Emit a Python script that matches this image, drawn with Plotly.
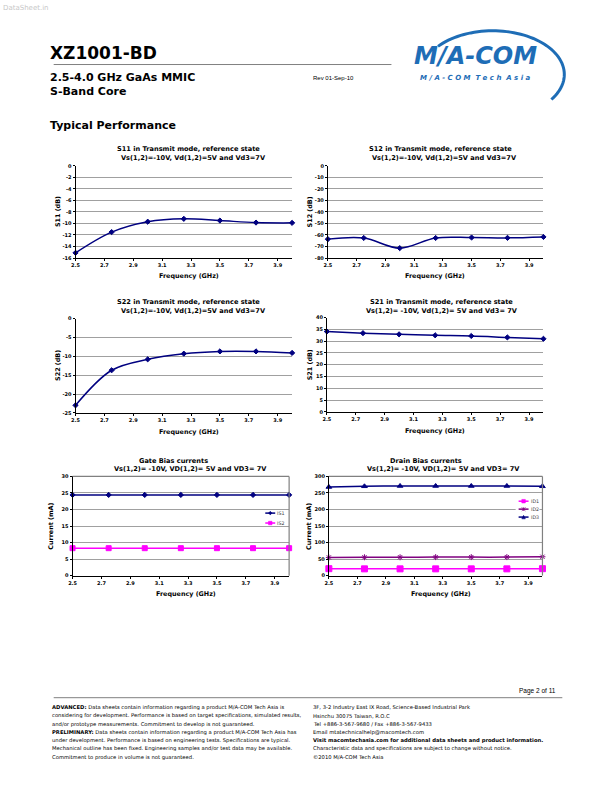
import math
import plotly.graph_objects as go

# ---------------- data ----------------
freq = [2.5, 2.75, 3.0, 3.25, 3.5, 3.75, 4.0]
s11 = [-15.1, -11.5, -9.7, -9.2, -9.5, -9.85, -9.9]
s12 = [-63.6, -62.6, -71.4, -62.6, -62.2, -62.5, -61.7]
s22 = [-23.0, -13.7, -10.8, -9.3, -8.7, -8.7, -9.1]
s21 = [34.1, 33.4, 32.9, 32.5, 32.2, 31.6, 31.0]
is1 = [24.4, 24.4, 24.4, 24.4, 24.4, 24.4, 24.4]
is2 = [8.3, 8.3, 8.3, 8.3, 8.3, 8.3, 8.3]
id1 = [21, 20.5, 20.5, 20.5, 20.5, 20.5, 21]
id2 = [55, 55.5, 55.5, 56, 56, 56, 57]
id3 = [268, 270, 271, 271, 271, 271, 270]

xticks = [2.5, 2.7, 2.9, 3.1, 3.3, 3.5, 3.7, 3.9]
xticklabels = ["2.5", "2.7", "2.9", "3.1", "3.3", "3.5", "3.7", "3.9"]
s11_ticks = [0, -2, -4, -6, -8, -10, -12, -14, -16]
s11_labels = ["0", "-2", "-4", "-6", "-8", "-10", "-12", "-14", "-16"]
s12_ticks = [0, -10, -20, -30, -40, -50, -60, -70, -80]
s12_labels = ["0", "-10", "-20", "-30", "-40", "-50", "-60", "-70", "-80"]
s22_ticks = [0, -5, -10, -15, -20, -25]
s22_labels = ["0", "-5", "-10", "-15", "-20", "-25"]
s21_ticks = [0, 5, 10, 15, 20, 25, 30, 35, 40]
s21_labels = ["0", "5", "10", "15", "20", "25", "30", "35", "40"]
gate_ticks = [0, 5, 10, 15, 20, 25, 30]
gate_labels = ["0", "5", "10", "15", "20", "25", "30"]
drain_ticks = [0, 50, 100, 150, 200, 250, 300]
drain_labels = ["0", "50", "100", "150", "200", "250", "300"]

W, H = 612, 792
NAVY = "#000080"
MAGENTA = "#FF00FF"
PURPLE = "#800080"
BLUE = "#1E6DB6"
FONT = "DejaVu Sans"


def px(x):
    return x / W


def py(y):
    return 1 - y / H


fig = go.Figure()

# chart boxes in page pixels: (left, right, top, bottom)
boxes = [
    (72, 290, 164, 257),
    (326, 543, 164, 257),
    (72, 290, 318, 413),
    (325, 543, 317, 412),
    (69, 287, 477, 577),
    (327, 542, 477, 577),
]
yaxes = [
    ((-16, 0), s11_ticks, s11_labels),
    ((-80, 0), s12_ticks, s12_labels),
    ((-25, 0), s22_ticks, s22_labels),
    ((0, 40), s21_ticks, s21_labels),
    ((0, 30), gate_ticks, gate_labels),
    ((0, 300), drain_ticks, drain_labels),
]

tickfont = dict(family=FONT, size=5, color="black", weight="bold")

for i, ((l, r, t, b), (yr, yt, yl)) in enumerate(zip(boxes, yaxes)):
    n = "" if i == 0 else str(i + 1)
    fig.layout["xaxis" + n] = dict(
        domain=[px(l), px(r)], range=[2.5, 4.0], anchor="y" + n,
        tickmode="array", tickvals=xticks, ticktext=xticklabels,
        showline=True, linecolor="black", linewidth=1,
        ticks="outside", ticklen=2, tickcolor="black",
        showgrid=False, zeroline=False, tickfont=tickfont, fixedrange=True,
    )
    fig.layout["yaxis" + n] = dict(
        domain=[py(b), py(t)], range=list(yr), anchor="x" + n,
        tickmode="array", tickvals=yt, ticktext=yl,
        showline=True, linecolor="black", linewidth=1,
        ticks="outside", ticklen=2, tickcolor="black",
        showgrid=True, gridcolor="#A0A0A0", gridwidth=1,
        zeroline=False, tickfont=tickfont, fixedrange=True,
    )

shapes = []
# frames for bias charts: top and right edges in gray
for (l, r, t, b) in boxes[4:]:
    shapes.append(dict(type="line", xref="paper", yref="paper",
                       x0=px(l), x1=px(r), y0=py(t), y1=py(t),
                       line=dict(color="#808080", width=1.2)))
    shapes.append(dict(type="line", xref="paper", yref="paper",
                       x0=px(r), x1=px(r), y0=py(t), y1=py(b),
                       line=dict(color="#808080", width=1.2)))


def add_series(y, ax, color, symbol, size, name, width=1.5):
    n = "" if ax == 1 else str(ax)
    fig.add_trace(go.Scatter(
        x=freq, y=y, xaxis="x" + n, yaxis="y" + n, name=name,
        mode="lines+markers",
        line=dict(color=color, width=width, shape="spline", smoothing=1.0),
        marker=dict(color=color, symbol=symbol, size=size,
                    line=dict(color=color, width=1)),
        showlegend=False, cliponaxis=False,
    ))


add_series(s11, 1, NAVY, "diamond", 4, "S11")
add_series(s12, 2, NAVY, "diamond", 4, "S12")
add_series(s22, 3, NAVY, "diamond", 4, "S22")
add_series(s21, 4, NAVY, "diamond", 4, "S21")
add_series(is1, 5, NAVY, "diamond", 4, "IS1")
add_series(is2, 5, MAGENTA, "square", 5, "IS2")
add_series(id1, 6, MAGENTA, "square", 6, "ID1")
add_series(id2, 6, PURPLE, "asterisk-open", 5, "ID2")
add_series(id3, 6, NAVY, "triangle-up", 5, "ID3")

ann = []


def text(x, y, s, size, color="black", xanchor="center", bold=False, angle=0,
         family=FONT, italic=False):
    if bold:
        s = "<b>" + s + "</b>"
    if italic:
        s = "<i>" + s + "</i>"
    ann.append(dict(x=px(x), y=py(y), xref="paper", yref="paper", text=s,
                    showarrow=False, xanchor=xanchor, yanchor="middle",
                    font=dict(family=family, size=size, color=color),
                    textangle=angle, borderpad=0))


# chart titles
TS = 6.6
titles = [
    (186, 191, 147, 156, "S11 in Transmit mode, reference state", "Vs(1,2)=-10V, Vd(1,2)=5V and Vd3=7V"),
    (439, 443, 147, 156, "S12 in Transmit mode, reference state", "Vs(1,2)=-10V, Vd(1,2)=5V and Vd3=7V"),
    (186, 191, 301, 310, "S22 in Transmit mode, reference state", "Vs(1,2)=-10V, Vd(1,2)=5V and Vd3=7V"),
    (440, 441, 301, 310, "S21 in Transmit mode, reference state", "Vs(1,2)= -10V, Vd(1,2)= 5V and Vd3= 7V"),
    (171, 188, 461, 470, "Gate Bias currents", "Vs(1,2)= -10V, VD(1,2)= 5V and VD3= 7V"),
    (425, 442, 461, 470, "Drain Bias currents", "Vs(1,2)= -10V, VD(1,2)= 5V and VD3= 7V"),
]
for x1, x2, y1, y2, a, b in titles:
    text(x1, y1, a, TS, bold=True)
    text(x2, y2, b, TS, bold=True)

# axis titles
AS = 6.4
for (x, y, s) in [(55, 210, "S11 (dB)"), (308, 210, "S12 (dB)"), (55, 365, "S22 (dB)"),
                  (308, 364, "S21 (dB)"), (47, 527, "Current (mA)"), (307, 527, "Current (mA)")]:
    text(x, y, s, AS, bold=True, angle=-90)
for (x, y) in [(186, 275), (434, 275), (186, 432), (434, 431), (183, 596), (440, 596)]:
    text(x, y, "Frequency (GHz)", AS, bold=True)


# legends (drawn as small samples)
def legend_item(x0, x1, y, color, kind, label):
    shapes.append(dict(type="line", xref="paper", yref="paper", x0=px(x0), x1=px(x1),
                       y0=py(y), y1=py(y), line=dict(color=color, width=1.5)))
    cx = (x0 + x1) / 2
    s = 1.8
    if kind == "diamond":
        pts = [(cx, y - s), (cx + s, y), (cx, y + s), (cx - s, y)]
    elif kind == "square":
        pts = [(cx - s, y - s), (cx + s, y - s), (cx + s, y + s), (cx - s, y + s)]
    elif kind == "triangle":
        pts = [(cx, y - s), (cx + s, y + s), (cx - s, y + s)]
    else:
        pts = None
    if pts:
        path = "M " + " L ".join(f"{px(a):.5f},{py(b):.5f}" for a, b in pts) + " Z"
        shapes.append(dict(type="path", xref="paper", yref="paper", path=path,
                           fillcolor=color, line=dict(color=color, width=0.5)))
    else:
        for dx, dy in [(-s, -s), (-s, s)]:
            shapes.append(dict(type="line", xref="paper", yref="paper",
                               x0=px(cx + dx), y0=py(y + dy), x1=px(cx - dx), y1=py(y - dy),
                               line=dict(color=color, width=0.8)))
        shapes.append(dict(type="line", xref="paper", yref="paper",
                           x0=px(cx), y0=py(y - s), x1=px(cx), y1=py(y + s),
                           line=dict(color=color, width=0.8)))
    text(x1 + 1.0, y, label, 4.8, color="#404040", xanchor="left")


# white background for drain legend
shapes.append(dict(type="rect", xref="paper", yref="paper", x0=px(515), x1=px(539),
                   y0=py(522), y1=py(497), fillcolor="white", line=dict(width=0)))
legend_item(263, 273, 514, NAVY, "diamond", "IS1")
legend_item(263, 273, 524, MAGENTA, "square", "IS2")
legend_item(518, 528, 502, MAGENTA, "square", "ID1")
legend_item(518, 528, 510, PURPLE, "star", "ID2")
legend_item(518, 528, 518, NAVY, "triangle", "ID3")

# ---------------- page header ----------------
LX = 45
text(-2, 5, "DataSheet.in", 7, color="#C8C8C8", xanchor="left")
text(LX, 50, "XZ1001-BD", 17, bold=True, xanchor="left")
shapes.append(dict(type="line", xref="paper", yref="paper", x0=px(50), x1=px(390),
                   y0=py(62), y1=py(62), line=dict(color="#808080", width=1)))
text(LX, 75, "2.5-4.0 GHz GaAs MMIC", 11, bold=True, xanchor="left")
text(LX, 89, "S-Band Core", 11, bold=True, xanchor="left")
text(310, 76, "Rev 01-Sep-10", 6, xanchor="left", family="Liberation Sans")
text(LX, 123, "Typical Performance", 11, bold=True, xanchor="left")

# logo
text(475, 53, "M/A-COM", 24, color=BLUE, bold=True, italic=True)
text(475, 76, "M / A - C O M  T e c h  A s i a", 7.0, color=BLUE, bold=True, italic=True)
cx, cy, rx, ry = 492, 72, 72, 44
arc = []
for k in range(0, 61):
    t = math.radians(-140 + k * (175 / 60))
    arc.append((cx + rx * math.cos(t), cy + ry * math.sin(t)))
shapes.append(dict(type="path", xref="paper", yref="paper",
                   path="M " + " L ".join(f"{px(a):.5f},{py(b):.5f}" for a, b in arc),
                   line=dict(color=BLUE, width=3)))

# ---------------- footer ----------------
text(557, 693, "Page 2 of 11", 6.5, xanchor="right", family="Liberation Sans")
shapes.append(dict(type="line", xref="paper", yref="paper", x0=px(50), x1=px(562),
                   y0=py(700), y1=py(700), line=dict(color="#808080", width=1)))
FS = 5.25
left_lines = [
    "<b>ADVANCED:</b> Data sheets contain information regarding a product M/A-COM Tech Asia is",
    "considering for development. Performance is based on target specifications, simulated results,",
    "and/or prototype measurements. Commitment to develop is not guaranteed.",
    "<b>PRELIMINARY:</b> Data sheets contain information regarding a product M/A-COM Tech Asia has",
    "under development. Performance is based on engineering tests. Specifications are typical.",
    "Mechanical outline has been fixed. Engineering samples and/or test data may be available.",
    "Commitment to produce in volume is not guaranteed.",
]
right_lines = [
    "3F, 3-2 Industry East IX Road, Science-Based Industrial Park",
    "Hsinchu 30075 Taiwan, R.O.C",
    "Tel +886-3-567-9680 / Fax +886-3-567-9433",
    "Email mtatechnicalhelp@macomtech.com",
    "<b>Visit macomtechasia.com for additional data sheets and product information.</b>",
    "Characteristic data and specifications are subject to change without notice.",
    "\u00a92010 M/A-COM Tech Asia",
]
for k, s in enumerate(left_lines):
    text(47, 710 + k * 8.3, s, FS, xanchor="left")
for k, s in enumerate(right_lines):
    text(310, 710 + k * 8.3, s, FS, xanchor="left")

fig.update_layout(
    width=W, height=H, margin=dict(l=0, r=0, t=0, b=0),
    paper_bgcolor="white", plot_bgcolor="white",
    showlegend=False, annotations=ann, shapes=shapes,
    font=dict(family=FONT),
)
fig.write_html(
    "out.html",
    config={"displayModeBar": False},
    post_script="document.body.style.margin='0';document.body.style.overflow='hidden';",
)
